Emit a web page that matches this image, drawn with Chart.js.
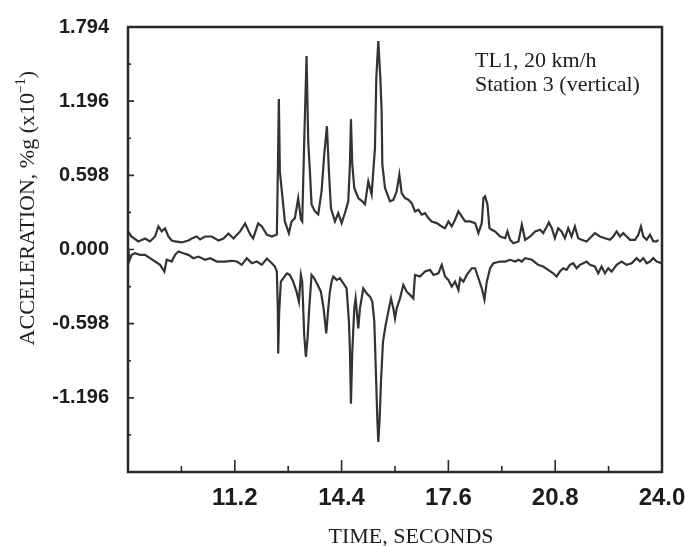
<!DOCTYPE html>
<html>
<head>
<meta charset="utf-8">
<script src="https://cdn.jsdelivr.net/npm/chart.js@4.4.0/dist/chart.umd.min.js"></script>
<style>
html,body{margin:0;padding:0;background:#ffffff;}
#wrap{width:685px;height:546px;position:relative;}
</style>
</head>
<body>
<div id="wrap"><canvas id="c" width="685" height="546"></canvas></div>
<script>
// ---- data (time in seconds, acceleration in %g x10^-1) ----
const upperTime = [8.00,8.10,8.31,8.51,8.66,8.81,8.91,9.01,9.11,9.21,9.31,9.41,9.61,9.81,9.91,10.06,10.16,10.31,10.51,10.71,10.86,11.01,11.16,11.36,11.51,11.66,11.75,11.90,12.01,12.16,12.31,12.46,
  12.49,12.52,12.55,12.61,12.70,12.82,12.90,13.00,13.10,13.18,13.22,13.28,13.35,13.40,13.45,13.50,13.60,13.70,13.80,13.88,13.96,14.02,14.08,14.20,14.30,14.40,14.50,14.60,14.65,14.68,14.72,14.78,14.90,15.02,15.10,15.20,15.30,15.40,15.44,15.50,15.56,15.60,15.62,15.70,15.85,15.95,
  16.05,16.13,16.20,16.30,16.40,16.50,16.60,16.70,16.80,16.90,17.00,17.10,17.25,17.40,17.50,17.60,17.70,17.80,17.90,18.00,18.10,18.25,18.40,18.50,18.60,18.65,18.70,18.77,18.83,18.90,19.00,19.15,19.30,19.37,19.45,19.55,19.70,19.80,19.90,
  20.05,20.20,20.35,20.44,20.55,20.61,20.70,20.79,20.89,20.99,21.09,21.19,21.29,21.39,21.49,21.59,21.74,21.89,21.99,22.14,22.29,22.44,22.54,22.64,22.74,22.84,22.94,23.04,23.19,23.29,23.37,23.44,23.54,23.64,23.74,23.84,23.89];
const upperAccel = [0.146,0.105,0.065,0.089,0.065,0.105,0.186,0.146,0.170,0.105,0.073,0.065,0.057,0.073,0.089,0.105,0.081,0.105,0.105,0.073,0.089,0.129,0.089,0.146,0.210,0.121,0.089,0.210,0.186,0.121,0.105,0.121,
  0.631,1.213,0.631,0.469,0.226,0.132,0.226,0.253,0.415,0.243,0.226,0.873,1.560,0.873,0.631,0.364,0.307,0.283,0.469,0.768,0.994,0.631,0.334,0.226,0.293,0.213,0.293,0.388,0.687,1.051,0.687,0.496,0.415,0.388,0.364,0.550,0.445,0.819,1.385,1.681,1.385,1.116,0.687,0.496,0.388,0.400,
  0.469,0.604,0.455,0.415,0.402,0.374,0.307,0.321,0.281,0.293,0.253,0.226,0.213,0.186,0.172,0.226,0.186,0.240,0.307,0.267,0.226,0.226,0.213,0.132,0.213,0.415,0.428,0.364,0.172,0.159,0.146,0.105,0.091,0.146,0.078,0.051,0.065,0.200,0.078,
  0.105,0.146,0.159,0.132,0.186,0.218,0.172,0.091,0.172,0.146,0.091,0.172,0.105,0.186,0.091,0.078,0.065,0.105,0.132,0.105,0.091,0.078,0.105,0.146,0.105,0.132,0.105,0.078,0.078,0.119,0.186,0.105,0.078,0.119,0.065,0.065,0.078];

const lowerTime = [8.00,8.05,8.11,8.21,8.36,8.51,8.66,8.81,8.96,9.09,9.16,9.31,9.41,9.51,9.66,9.81,9.96,10.11,10.31,10.46,10.66,10.91,11.11,11.26,11.41,11.56,11.71,11.86,12.01,12.16,12.31,12.40,
  12.46,12.49,12.50,12.53,12.58,12.65,12.76,12.85,12.95,13.05,13.12,13.18,13.22,13.28,13.33,13.38,13.43,13.50,13.58,13.68,13.78,13.86,13.94,14.00,14.05,14.10,14.15,14.25,14.35,14.45,14.55,14.62,14.65,14.68,14.72,14.78,14.82,14.90,14.95,15.05,15.15,15.25,15.32,15.38,15.43,15.47,15.50,15.54,15.58,15.64,15.72,15.80,15.88,15.95,16.00,
  16.05,16.15,16.25,16.35,16.45,16.55,16.60,16.75,16.90,17.05,17.15,17.30,17.40,17.50,17.60,17.70,17.80,17.90,17.95,18.05,18.15,18.30,18.40,18.50,18.60,18.68,18.75,18.85,18.95,19.15,19.30,19.45,19.60,19.70,19.80,19.90,
  20.10,20.29,20.44,20.59,20.74,20.84,20.94,21.04,21.14,21.24,21.34,21.44,21.54,21.64,21.74,21.84,21.99,22.09,22.19,22.29,22.39,22.49,22.64,22.79,22.94,23.09,23.24,23.34,23.44,23.54,23.64,23.74,23.84,23.99];
const lowerAccel = [0.008,-0.083,-0.043,-0.030,-0.043,-0.043,-0.070,-0.097,-0.124,-0.178,-0.083,-0.097,-0.043,-0.016,-0.030,-0.043,-0.070,-0.057,-0.083,-0.070,-0.097,-0.097,-0.091,-0.097,-0.124,-0.070,-0.111,-0.097,-0.124,-0.073,-0.111,-0.137,
  -0.178,-0.501,-0.838,-0.501,-0.259,-0.232,-0.192,-0.205,-0.259,-0.340,-0.420,-0.205,-0.259,-0.690,-0.865,-0.717,-0.475,-0.205,-0.232,-0.285,-0.340,-0.475,-0.677,-0.475,-0.340,-0.259,-0.218,-0.245,-0.232,-0.272,-0.313,-0.582,-0.825,-1.243,-0.825,-0.475,-0.394,-0.636,-0.475,-0.313,-0.353,-0.380,-0.420,-0.582,-1.013,-1.364,-1.552,-1.364,-1.067,-0.744,-0.609,-0.501,-0.394,-0.475,-0.555,
  -0.475,-0.394,-0.285,-0.340,-0.366,-0.394,-0.205,-0.218,-0.178,-0.164,-0.205,-0.192,-0.124,-0.218,-0.245,-0.299,-0.259,-0.326,-0.232,-0.259,-0.205,-0.151,-0.151,-0.232,-0.313,-0.404,-0.259,-0.151,-0.111,-0.097,-0.097,-0.083,-0.097,-0.083,-0.097,-0.070,
  -0.083,-0.124,-0.137,-0.164,-0.192,-0.218,-0.178,-0.151,-0.164,-0.124,-0.111,-0.151,-0.124,-0.111,-0.097,-0.124,-0.137,-0.192,-0.137,-0.192,-0.151,-0.178,-0.124,-0.097,-0.124,-0.111,-0.070,-0.097,-0.070,-0.111,-0.097,-0.070,-0.097,-0.111];

// ---- axes / ticks ----
const xMajorTicks = [8.0, 11.2, 14.4, 17.6, 20.8, 24.0];
const xTickLabels = ['', '11.2', '14.4', '17.6', '20.8', '24.0'];
const xMinorTicks = [9.6, 12.8, 16.0, 19.2, 22.4];
const yMajorTicks = [-1.794, -1.196, -0.598, 0.0, 0.598, 1.196, 1.794];
const yTickLabels = ['', '-1.196', '-0.598', '0.000', '0.598', '1.196', '1.794'];
const yMinorTicks = [-1.495, -0.897, -0.299, 0.299, 0.897, 1.495];

const xTitle = 'TIME, SECONDS';
const yTitleMain = 'ACCELERATION, %g (x10';
const yTitleSup = '\u22121';
const yTitleEnd = ')';
const annotationLines = ['TL1, 20 km/h', 'Station 3 (vertical)'];

const INK = '#2a2a2a';
const TICK_FONT = "'Liberation Sans', Arial, sans-serif";
const SERIF = "'Liberation Serif', 'Times New Roman', serif";

const decor = {
  id: 'decor',
  afterDraw(chart) {
    const {ctx, chartArea: a, scales} = chart;
    const xs = scales.x, ys = scales.y;
    ctx.save();
    ctx.strokeStyle = INK;
    // frame
    ctx.lineWidth = 2.5;
    ctx.strokeRect(a.left, a.top, a.right - a.left, a.bottom - a.top);
    // inward ticks
    ctx.lineWidth = 1.6;
    ctx.beginPath();
    xMajorTicks.forEach(v => { const p = xs.getPixelForValue(v); ctx.moveTo(p, a.bottom); ctx.lineTo(p, a.bottom - 12); });
    xMinorTicks.forEach(v => { const p = xs.getPixelForValue(v); ctx.moveTo(p, a.bottom); ctx.lineTo(p, a.bottom - 6); });
    yMajorTicks.forEach(v => { const p = ys.getPixelForValue(v); ctx.moveTo(a.left, p); ctx.lineTo(a.left + 6, p); });
    yMinorTicks.forEach(v => { const p = ys.getPixelForValue(v); ctx.moveTo(a.left, p); ctx.lineTo(a.left + 3, p); });
    ctx.stroke();

    ctx.fillStyle = '#1c1c1c';
    // x title
    ctx.font = '22px ' + SERIF;
    ctx.textAlign = 'center';
    ctx.textBaseline = 'alphabetic';
    ctx.fillText(xTitle, a.left + (a.right - a.left) * 0.53, 543);

    // y title (rotated, with superscript)
    ctx.save();
    const cy = a.top + (a.bottom - a.top) * 0.407;
    ctx.translate(34, cy);
    ctx.rotate(-Math.PI / 2);
    ctx.font = '22px ' + SERIF;
    const w1 = ctx.measureText(yTitleMain).width;
    ctx.font = '14px ' + SERIF;
    const w2 = ctx.measureText(yTitleSup).width;
    ctx.font = '22px ' + SERIF;
    const w3 = ctx.measureText(yTitleEnd).width;
    let sx = -(w1 + w2 + w3) / 2;
    ctx.textAlign = 'left';
    ctx.fillText(yTitleMain, sx, 0);
    sx += w1;
    ctx.font = '14px ' + SERIF;
    ctx.fillText(yTitleSup, sx, -9);
    sx += w2;
    ctx.font = '22px ' + SERIF;
    ctx.fillText(yTitleEnd, sx, 0);
    ctx.restore();

    // annotation
    ctx.font = '22px ' + SERIF;
    ctx.textAlign = 'left';
    ctx.fillText(annotationLines[0], a.left + 347, a.top + 40);
    ctx.fillText(annotationLines[1], a.left + 347, a.top + 64);
    ctx.restore();
  }
};

new Chart(document.getElementById('c'), {
  type: 'scatter',
  data: {
    datasets: [
      { label: 'upper', data: upperTime.map((t, i) => ({x: t, y: upperAccel[i]})) },
      { label: 'lower', data: lowerTime.map((t, i) => ({x: t, y: lowerAccel[i]})) }
    ]
  },
  options: {
    responsive: false,
    animation: false,
    devicePixelRatio: 1,
    showLine: true,
    elements: {
      line: { borderColor: '#333333', borderWidth: 2.2, tension: 0, fill: false },
      point: { radius: 0, hoverRadius: 0 }
    },
    datasets: { scatter: { borderColor: '#333333', backgroundColor: '#333333' } },
    layout: { padding: { top: 27, right: 23, bottom: 0, left: 0 } },
    plugins: { legend: { display: false }, tooltip: { enabled: false }, title: { display: false } },
    scales: {
      x: {
        type: 'linear', min: 8.0, max: 24.0,
        afterBuildTicks: s => { s.ticks = xMajorTicks.map(v => ({value: v})); },
        afterFit: s => { s.height = 74; s.paddingLeft = 0; s.paddingRight = 0; },
        grid: { display: false, drawTicks: false },
        border: { display: false },
        ticks: {
          padding: 14,
          color: '#1c1c1c',
          maxRotation: 0, autoSkip: false,
          font: { family: TICK_FONT, size: 24, weight: 'bold', lineHeight: 1 },
          callback: (v, i) => xTickLabels[i]
        }
      },
      y: {
        type: 'linear', min: -1.794, max: 1.794,
        afterBuildTicks: s => { s.ticks = yMajorTicks.map(v => ({value: v})); },
        afterFit: s => { s.width = 128; s.paddingTop = 0; s.paddingBottom = 0; },
        grid: { display: false, drawTicks: false },
        border: { display: false },
        ticks: {
          padding: 19,
          color: '#1c1c1c',
          autoSkip: false,
          font: { family: TICK_FONT, size: 20, weight: 'bold', lineHeight: 1 },
          callback: (v, i) => yTickLabels[i]
        }
      }
    }
  },
  plugins: [decor]
});
</script>
</body>
</html>
